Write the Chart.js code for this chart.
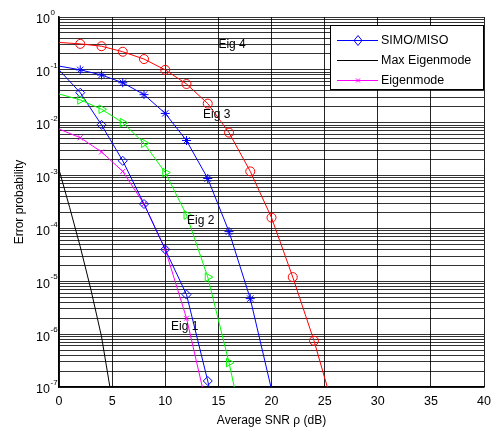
<!DOCTYPE html>
<html>
<head>
<meta charset="utf-8">
<script src="https://cdn.jsdelivr.net/npm/chart.js@4/dist/chart.umd.min.js"></script>
<style>
  html, body { margin: 0; padding: 0; background: #fff; }
  #wrap { width: 494px; height: 430px; }
</style>
</head>
<body>
<div id="wrap"><canvas id="chart" width="494" height="430"></canvas></div>
<script>
(function() {
  'use strict';

  var BLUE    = '#0000ff';
  var RED     = '#ff0000';
  var GREEN   = '#00ff00';
  var MAGENTA = '#ff00ff';
  var BLACK   = '#000000';
  var FONT = "'Liberation Sans', Arial, sans-serif";

  // --- data ---
  var SNR_EIG4 = [0, 2, 4, 6, 8, 10, 12, 14, 16, 18, 20, 22, 24, 26];
  var EIG4     = [0.33, 0.31, 0.28, 0.22, 0.16, 0.10, 0.054, 0.023, 0.0065, 0.0012, 1.6e-4, 1.2e-5, 7.5e-7, 3e-8];

  var SNR_EIG3 = [0, 2, 4, 6, 8, 10, 12, 14, 16, 18, 20];
  var EIG3     = [0.118, 0.10, 0.080, 0.057, 0.034, 0.015, 0.0046, 8.8e-4, 8.7e-5, 4.7e-6, 9e-8];

  var SNR_EIG2 = [0, 2, 4, 6, 8, 10, 12, 14, 16, 18];
  var EIG2     = [0.035, 0.027, 0.018, 0.010, 0.0041, 0.00114, 1.8e-4, 1.2e-5, 2.9e-7, 4e-9];

  var SNR_SIMO = [0, 2, 4, 6, 8, 10, 12, 14, 16];
  var SIMO     = [0.10, 0.037, 0.0091, 0.0019, 2.9e-4, 4e-5, 5.6e-6, 1.3e-7, 2e-9];

  var SNR_EIG1 = [0, 2, 4, 6, 8, 10, 12, 14];
  var EIG1     = [0.0076, 0.0052, 0.0028, 0.0012, 2.9e-4, 4e-5, 2e-6, 3.6e-8];

  var SNR_MAX  = [0, 1, 2, 3, 4, 5];
  var MAXEIG   = [1.3e-3, 2.5e-4, 4.5e-5, 7e-6, 9e-7, 5.6e-8];

  var X_TICKS     = [0, 5, 10, 15, 20, 25, 30, 35, 40];
  var Y_EXPONENTS = [0, -1, -2, -3, -4, -5, -6, -7];

  var LEGEND_LABELS = ['SIMO/MISO', 'Max Eigenmode', 'Eigenmode'];
  var CURVE_LABELS  = ['Eig 4', 'Eig 3', 'Eig 2', 'Eig 1'];
  var CURVE_LABEL_X = [15.0, 13.55, 12.05, 10.55];
  var CURVE_LABEL_Y = [0.30, 0.014, 1.4e-4, 1.4e-6];

  function points(xs, ys) {
    return xs.map(function(x, i) { return { x: x, y: ys[i] }; });
  }
  // markers on every point except the first and the last one
  function inner(n, r) {
    var out = [];
    for (var i = 0; i < n; i++) out.push(i === 0 || i === n - 1 ? 0 : r);
    return out;
  }

  function series(xs, ys, color, style, r, rot) {
    return {
      data: points(xs, ys),
      borderColor: color,
      backgroundColor: 'rgba(0,0,0,0)',
      borderWidth: 1,
      showLine: true,
      pointStyle: style,
      pointRadius: style ? inner(xs.length, r) : 0,
      pointRotation: rot || 0,
      pointBorderWidth: 1,
      pointBorderColor: color,
      pointBackgroundColor: 'rgba(0,0,0,0)'
    };
  }

  var decorations = {
    id: 'decorations',
    afterDraw: function(chart) {
      var ctx = chart.ctx;
      var xs = chart.scales.x, ys = chart.scales.y;
      var area = chart.chartArea;
      ctx.save();

      // y tick labels 10^n
      ctx.fillStyle = BLACK;
      Y_EXPONENTS.forEach(function(e) {
        var py = ys.getPixelForValue(Math.pow(10, e));
        ctx.font = '12.5px ' + FONT;
        ctx.textAlign = 'right';
        ctx.textBaseline = 'middle';
        ctx.fillText('10', 50, py + 3);
        ctx.font = '8px ' + FONT;
        ctx.textAlign = 'left';
        ctx.fillText(String(e), 50.5, py - 4);
      });

      // axis titles
      ctx.font = '12px ' + FONT;
      ctx.textAlign = 'center';
      ctx.textBaseline = 'middle';
      ctx.fillText('Average SNR \u03c1 (dB)', (area.left + area.right) / 2, 421);
      ctx.save();
      ctx.translate(20, (area.top + area.bottom) / 2);
      ctx.rotate(-Math.PI / 2);
      ctx.fillText('Error probability', 0, 0);
      ctx.restore();

      // curve labels
      ctx.textAlign = 'left';
      CURVE_LABELS.forEach(function(t, i) {
        ctx.fillText(t, xs.getPixelForValue(CURVE_LABEL_X[i]), ys.getPixelForValue(CURVE_LABEL_Y[i]));
      });

      // legend box
      ctx.fillStyle = '#fff';
      ctx.fillRect(330.5, 25.5, 153, 64);
      ctx.strokeStyle = BLACK;
      ctx.lineWidth = 1;
      ctx.strokeRect(330.5, 25.5, 153, 64);
      var rows = [40, 60, 80];
      var cols = [BLUE, BLACK, MAGENTA];
      rows.forEach(function(ry, i) {
        ctx.strokeStyle = cols[i];
        ctx.beginPath();
        ctx.moveTo(337, ry + 0.5);
        ctx.lineTo(378, ry + 0.5);
        ctx.stroke();
        ctx.beginPath();
        if (i === 0) {
          ctx.moveTo(358, ry - 4.5); ctx.lineTo(362, ry + 0.5);
          ctx.lineTo(358, ry + 5.5); ctx.lineTo(354, ry + 0.5);
          ctx.closePath();
        } else if (i === 2) {
          ctx.moveTo(356, ry - 1.5); ctx.lineTo(360, ry + 2.5);
          ctx.moveTo(360, ry - 1.5); ctx.lineTo(356, ry + 2.5);
        }
        ctx.stroke();
        ctx.fillStyle = BLACK;
        ctx.font = '12.5px ' + FONT;
        ctx.textAlign = 'left';
        ctx.textBaseline = 'middle';
        ctx.fillText(LEGEND_LABELS[i], 381, ry + 1);
      });

      ctx.restore();
    }
  };

  new Chart(document.getElementById('chart'), {
    type: 'scatter',
    data: {
      datasets: [
        series(SNR_EIG4, EIG4, RED, 'circle', 4.5),
        series(SNR_EIG3, EIG3, BLUE, 'star', 4.5),
        series(SNR_EIG2, EIG2, GREEN, 'triangle', 5, 90),
        series(SNR_SIMO, SIMO, BLUE, 'rectRot', 4.5),
        series(SNR_EIG1, EIG1, MAGENTA, 'crossRot', 3.5),
        series(SNR_MAX, MAXEIG, BLACK, false, 0)
      ]
    },
    options: {
      responsive: false,
      animation: false,
      layout: { padding: { top: 17, right: 10, left: 0, bottom: 0 } },
      plugins: { legend: { display: false }, tooltip: { enabled: false } },
      scales: {
        x: {
          type: 'linear',
          min: 0,
          max: 40,
          afterBuildTicks: function(scale) {
            scale.ticks = X_TICKS.map(function(v) { return { value: v }; });
          },
          afterFit: function(scale) {
            scale.height = 43;
            scale.paddingLeft = 0;
            scale.paddingRight = 0;
          },
          ticks: {
            color: BLACK,
            font: { family: FONT, size: 12.5 },
            padding: 7,
            maxRotation: 0,
            autoSkip: false
          },
          grid: { color: 'rgba(0,0,0,0.85)', lineWidth: 1, drawTicks: false },
          border: { color: BLACK, width: 1.5 }
        },
        y: {
          type: 'logarithmic',
          min: 1e-7,
          max: 1,
          afterBuildTicks: function(scale) {
            var t = [];
            Y_EXPONENTS.forEach(function(e) {
              for (var m = 1; m <= 9; m++) {
                var v = m * Math.pow(10, e);
                if (v <= 1 && v >= 1e-7) t.push({ value: v });
              }
            });
            scale.ticks = t;
          },
          afterFit: function(scale) {
            scale.width = 59;
            scale.paddingTop = 0;
            scale.paddingBottom = 0;
          },
          ticks: {
            display: false,
            autoSkip: false,
            callback: function() { return ''; }
          },
          grid: { color: 'rgba(0,0,0,0.8)', lineWidth: 1, drawTicks: false },
          border: { color: BLACK, width: 1.5 }
        }
      }
    },
    plugins: [decorations]
  });
})();
</script>
</body>
</html>
